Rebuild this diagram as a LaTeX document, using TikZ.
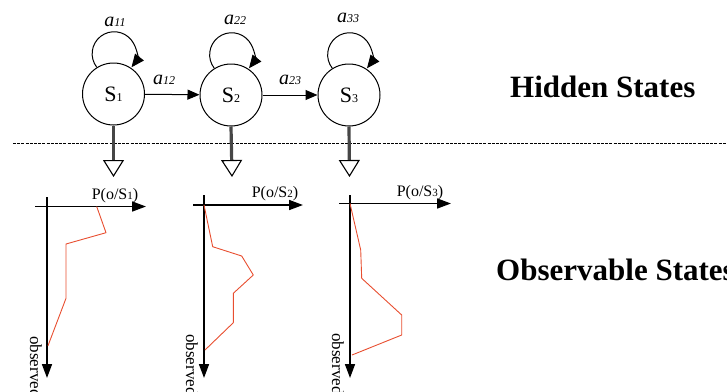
\documentclass[tikz,border=0pt]{standalone}
\usepackage{fontspec}
\setmainfont{Liberation Serif}
\usetikzlibrary{arrows.meta}
\definecolor{curvecol}{RGB}{232,78,48}
\definecolor{stemcol}{RGB}{70,70,70}
\begin{document}
\begin{tikzpicture}[x=1pt,y=1pt,
  state/.style={circle,draw,line width=1pt,fill=white,minimum size=62pt,inner sep=0pt,
    font=\fontsize{22}{22}\selectfont},
  trans/.style={line width=1pt,-{Triangle[length=12pt,width=10pt]}},
  selfloop/.style={line width=1pt,-{Triangle[length=13pt,width=11pt]}},
  tlabel/.style={font=\fontsize{20}{20}\selectfont\itshape,inner sep=0pt},
  emit/.style={line width=3.2pt,draw=stemcol,
    -{Triangle[open,length=17pt,width=21pt,line width=1.1pt,color=black]}},
  axisline/.style={line width=1.6pt,-{Triangle[length=14pt,width=10pt]}},
  axistick/.style={line width=1.6pt},
  pdf/.style={draw=curvecol,line width=0.9pt,line join=round},
  plabel/.style={font=\fontsize{16}{16}\selectfont,inner sep=0pt},
  olabel/.style={font=\fontsize{17}{17}\selectfont,inner sep=0pt,rotate=-90,anchor=north west},
  side/.style={font=\fontsize{31}{31}\selectfont\bfseries,inner sep=0pt}]
\useasboundingbox (0,-391) rectangle (727,0);
\clip (0,-391) rectangle (727,0);

% hidden states
\node[state] (s1) at (113.5,-94) {S{\fontsize{12}{12}\selectfont 1}};
\node[state] (s2) at (231,-95) {S{\fontsize{12}{12}\selectfont 2}};
\node[state] (s3) at (349,-95) {S{\fontsize{12}{12}\selectfont 3}};

% self transitions
\draw[selfloop] (s1.122) arc[start angle=218,end angle=-38,radius=22];
\draw[selfloop] (s2.122) arc[start angle=218,end angle=-38,radius=22];
\draw[selfloop] (s3.122) arc[start angle=218,end angle=-38,radius=22];
\node[tlabel] (l11) at (115,-22) {a{\fontsize{12}{12}\selectfont 11}};
\node[tlabel] (l22) at (235,-20) {a{\fontsize{12}{12}\selectfont 22}};
\node[tlabel] (l33) at (348,-18) {a{\fontsize{12}{12}\selectfont 33}};

% forward transitions
\draw[trans] (s1) -- (s2);
\draw[trans] (s2) -- (s3);
\node[tlabel] (l12) at (164,-80) {a{\fontsize{12}{12}\selectfont 12}};
\node[tlabel] (l23) at (290,-80) {a{\fontsize{12}{12}\selectfont 23}};

% separator
\coordinate (sepL) at (13,-143.5);
\coordinate (sepR) at (727,-143.5);
\draw[line width=1pt,dash pattern=on 3pt off 1.2pt] (sepL) -- (sepR);

% emissions
\coordinate (e1) at (113.5,-177);
\coordinate (e2) at (232,-177);
\coordinate (e3) at (349.5,-177);
\draw[emit] (s1.south) -- (e1);
\draw[emit] (s2.south) -- (e2);
\draw[emit] (s3.south) -- (e3);

% side labels
\node[side,anchor=west] (hid) at (510,-87) {Hidden States};
\node[side,anchor=west] (obs) at (496,-270) {Observable States};

% emission distributions: chart 1
\coordinate (o1) at (47,-206.5);
\coordinate (h1a) at (35,-206.5);
\coordinate (h1b) at (146,-206.5);
\coordinate (v1a) at (47,-197);
\coordinate (v1b) at (47,-378);
\draw[axistick] (h1a) -- (o1);
\draw[axisline] (o1) -- (h1b);
\draw[axistick] (v1a) -- (o1);
\draw[axisline] (o1) -- (v1b);
\draw[pdf] (96.7,-206.5) -- (106,-232.7) -- (66,-244) -- (66,-298.3) -- (48,-345.7);
\node[plabel] (p1) at (115,-196) {P(o/S{\fontsize{11}{11}\selectfont 1})};
\node[olabel] (ob1) at (42,-336) {observed};

% chart 2
\coordinate (o2) at (204,-205);
\coordinate (h2a) at (193,-205);
\coordinate (h2b) at (303,-205);
\coordinate (v2a) at (204,-195);
\coordinate (v2b) at (204,-378);
\draw[axistick] (h2a) -- (o2);
\draw[axisline] (o2) -- (h2b);
\draw[axistick] (v2a) -- (o2);
\draw[axisline] (o2) -- (v2b);
\draw[pdf] (204,-205) -- (212.7,-246.7) -- (241.7,-256) -- (253.3,-275) -- (233.3,-293.3) -- (233.3,-322.7) -- (205,-350);
\node[plabel] (p2) at (275,-194) {P(o/S{\fontsize{11}{11}\selectfont 2})};
\node[olabel] (ob2) at (198,-334) {observed};

% chart 3
\coordinate (o3) at (350,-203.5);
\coordinate (h3a) at (339,-203.5);
\coordinate (h3b) at (451,-203.5);
\coordinate (v3a) at (350,-195);
\coordinate (v3b) at (350,-378);
\draw[axistick] (h3a) -- (o3);
\draw[axisline] (o3) -- (h3b);
\draw[axistick] (v3a) -- (o3);
\draw[axisline] (o3) -- (v3b);
\draw[pdf] (350,-203.5) -- (360.7,-250) -- (361.7,-278.3) -- (401.7,-315) -- (401.7,-335) -- (352,-355);
\node[plabel] (p3) at (420,-193) {P(o/S{\fontsize{11}{11}\selectfont 3})};
\node[olabel] (ob3) at (344,-333) {observed};
\end{tikzpicture}
\end{document}
